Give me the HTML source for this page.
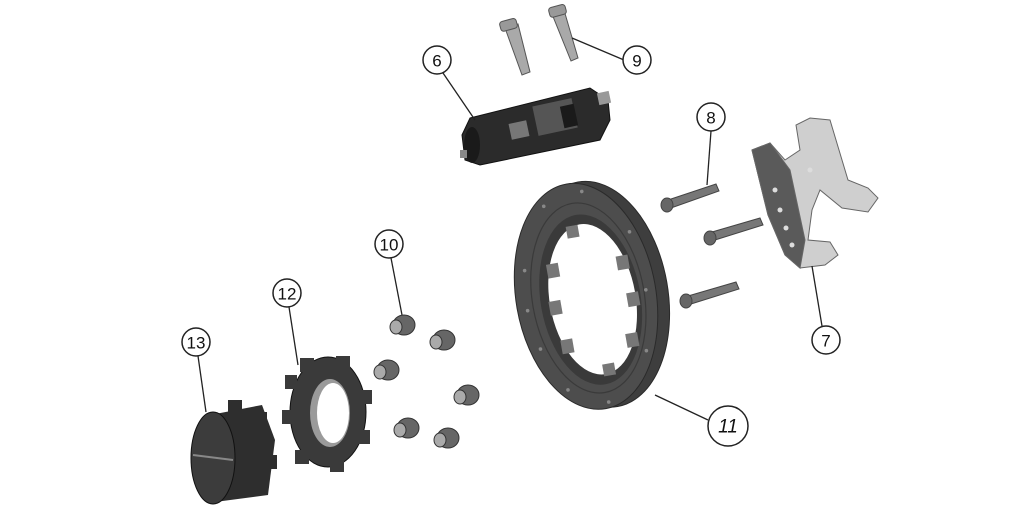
<!DOCTYPE html>
<html><head><meta charset="utf-8"><style>
html,body{margin:0;padding:0;background:#fff;}
svg{display:block}
text{font-family:"Liberation Sans",sans-serif;font-size:17px;fill:#111;text-anchor:middle;dominant-baseline:central}
</style></head><body>
<svg width="1024" height="524" viewBox="0 0 1024 524" xmlns="http://www.w3.org/2000/svg">
<rect width="1024" height="524" fill="#fff"/>
<!-- bolts 9 -->
<g stroke="#555" stroke-width="1">
<path d="M505 28 L518 24 L530 72 L522 75 Z" fill="#a9a9a9"/>
<rect x="500" y="20" width="17" height="10" rx="3" fill="#999" transform="rotate(-15 508 25)"/>
<path d="M552 14 L564 10 L578 58 L571 61 Z" fill="#a9a9a9"/>
<rect x="549" y="6" width="17" height="10" rx="3" fill="#999" transform="rotate(-15 557 11)"/>
</g>
<!-- caliper 6 -->
<g>
<path d="M470 118 L590 88 L608 100 L610 120 L600 140 L480 165 L465 160 L462 135 Z" fill="#2b2b2b" stroke="#111"/>
<rect x="535" y="102" width="40" height="30" fill="#555" transform="rotate(-12 555 117)"/>
<rect x="562" y="105" width="14" height="22" fill="#1a1a1a" transform="rotate(-12 569 116)"/>
<rect x="510" y="122" width="18" height="16" fill="#777" transform="rotate(-12 519 130)"/>
<rect x="598" y="92" width="12" height="12" fill="#999" transform="rotate(-12 604 98)"/>
<ellipse cx="472" cy="145" rx="8" ry="18" fill="#1a1a1a"/>
<rect x="460" y="150" width="7" height="8" fill="#888"/>
</g>
<!-- disc 11 -->
<g transform="rotate(-10 588 296)">
<ellipse cx="598" cy="296" rx="70" ry="114" fill="#3e3e3e" stroke="#2a2a2a"/>
<ellipse cx="586" cy="296" rx="70" ry="114" fill="#4d4d4d" stroke="#2a2a2a"/>
<ellipse cx="588" cy="298" rx="56" ry="96" fill="none" stroke="#3a3a3a" stroke-width="1.2"/>
<ellipse cx="590" cy="300" rx="50" ry="86" fill="#3a3a3a"/>
<ellipse cx="592" cy="300" rx="43" ry="76" fill="#fff"/>
<g fill="#777">
<rect x="552" y="258" width="12" height="14"/><rect x="548" y="295" width="12" height="14"/><rect x="553" y="335" width="12" height="14"/>
<rect x="622" y="262" width="12" height="14"/><rect x="626" y="300" width="12" height="14"/><rect x="618" y="340" width="12" height="14"/>
<rect x="578" y="224" width="12" height="12"/><rect x="590" y="366" width="12" height="12"/>
</g>
<g fill="#888"><circle cx="530" cy="260" r="1.8"/><circle cx="526" cy="300" r="1.8"/><circle cx="532" cy="340" r="1.8"/><circle cx="560" cy="200" r="1.8"/><circle cx="600" cy="192" r="1.8"/><circle cx="640" cy="240" r="1.8"/><circle cx="646" cy="300" r="1.8"/><circle cx="636" cy="360" r="1.8"/><circle cx="590" cy="404" r="1.8"/><circle cx="552" cy="385" r="1.8"/></g>
</g>
<!-- bolts 8 -->
<g fill="#777" stroke="#444">
<path d="M668 200 L716 184 L719 191 L671 208 Z"/><ellipse cx="667" cy="205" rx="6" ry="7" fill="#666"/>
<path d="M712 232 L760 218 L763 225 L715 240 Z"/><ellipse cx="710" cy="238" rx="6" ry="7" fill="#666"/>
<path d="M688 296 L736 282 L739 289 L691 304 Z"/><ellipse cx="686" cy="301" rx="6" ry="7" fill="#666"/>
</g>
<!-- bracket 7 -->
<g stroke="#666" stroke-width="1">
<path d="M752 150 L770 143 L785 160 L800 150 L796 125 L810 118 L830 120 L848 180 L868 188 L878 198 L868 212 L842 208 L820 190 L812 210 L808 240 L830 242 L838 255 L825 265 L800 268 L785 255 L768 215 Z" fill="#cfcfcf"/>
<path d="M752 150 L770 143 L790 170 L805 240 L800 268 L785 255 L768 215 Z" fill="#5a5a5a"/>
<g fill="#ddd" stroke="none"><circle cx="775" cy="190" r="2.5"/><circle cx="780" cy="210" r="2.5"/><circle cx="786" cy="228" r="2.5"/><circle cx="792" cy="245" r="2.5"/><circle cx="810" cy="170" r="2.5"/></g>
</g>
<!-- bushings 10 -->
<g fill="#666" stroke="#333">
<g><ellipse cx="404" cy="325" rx="11" ry="10"/><ellipse cx="396" cy="327" rx="6" ry="7" fill="#aaa"/></g>
<g><ellipse cx="444" cy="340" rx="11" ry="10"/><ellipse cx="436" cy="342" rx="6" ry="7" fill="#aaa"/></g>
<g><ellipse cx="388" cy="370" rx="11" ry="10"/><ellipse cx="380" cy="372" rx="6" ry="7" fill="#aaa"/></g>
<g><ellipse cx="468" cy="395" rx="11" ry="10"/><ellipse cx="460" cy="397" rx="6" ry="7" fill="#aaa"/></g>
<g><ellipse cx="408" cy="428" rx="11" ry="10"/><ellipse cx="400" cy="430" rx="6" ry="7" fill="#aaa"/></g>
<g><ellipse cx="448" cy="438" rx="11" ry="10"/><ellipse cx="440" cy="440" rx="6" ry="7" fill="#aaa"/></g>
</g>
<!-- carrier 12 -->
<g>
<ellipse cx="328" cy="412" rx="38" ry="55" fill="#3a3a3a" stroke="#111"/>
<g fill="#3a3a3a"><rect x="300" y="358" width="14" height="14"/><rect x="336" y="356" width="14" height="14"/><rect x="360" y="390" width="12" height="14"/><rect x="358" y="430" width="12" height="14"/><rect x="330" y="460" width="14" height="12"/><rect x="295" y="450" width="14" height="14"/><rect x="282" y="410" width="12" height="14"/><rect x="285" y="375" width="12" height="14"/></g>
<ellipse cx="330" cy="413" rx="20" ry="34" fill="#9a9a9a"/>
<ellipse cx="333" cy="413" rx="16" ry="30" fill="#fff"/>
</g>
<!-- hub 13 -->
<g>
<path d="M210 415 L262 405 L275 440 L268 495 L215 502 Z" fill="#2e2e2e"/>
<rect x="228" y="400" width="14" height="14" fill="#2e2e2e"/><rect x="255" y="412" width="12" height="14" fill="#2e2e2e"/><rect x="265" y="455" width="12" height="14" fill="#2e2e2e"/>
<ellipse cx="213" cy="458" rx="22" ry="46" fill="#3c3c3c" stroke="#111"/>
<path d="M193 455 L233 460" stroke="#888" stroke-width="2"/>
</g>
<!-- leaders -->
<g stroke="#222" stroke-width="1.3" fill="none">
<line x1="443" y1="73" x2="475" y2="120"/>
<line x1="624" y1="60" x2="572" y2="38"/>
<line x1="711" y1="131" x2="707" y2="185"/>
<line x1="822" y1="326" x2="812" y2="266"/>
<line x1="391" y1="258" x2="402" y2="315"/>
<line x1="289" y1="307" x2="298" y2="365"/>
<line x1="198" y1="356" x2="206" y2="412"/>
<line x1="708" y1="420" x2="655" y2="395"/>
</g>
<g fill="#fff" stroke="#222" stroke-width="1.5">
<circle cx="437" cy="60" r="14"/><circle cx="637" cy="60" r="14"/><circle cx="711" cy="117" r="14"/>
<circle cx="826" cy="340" r="14"/><circle cx="389" cy="244" r="14"/><circle cx="287" cy="293" r="14"/>
<circle cx="196" cy="342" r="14"/><circle cx="728" cy="426" r="20"/>
</g>
<text x="437" y="61">6</text><text x="637" y="61">9</text><text x="711" y="118">8</text>
<text x="826" y="341">7</text><text x="389" y="245">10</text><text x="287" y="294">12</text>
<text x="196" y="343">13</text><text x="728" y="427" style="font-style:italic;font-size:19px">11</text>
</svg>
</body></html>
